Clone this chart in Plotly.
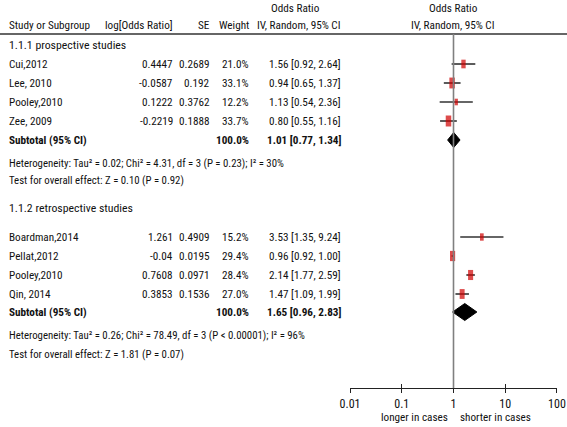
import plotly.graph_objects as go
import math

# ---------------- data ----------------
studies1 = ["Cui,2012", "Lee, 2010", "Pooley,2010", "Zee, 2009"]
logor1 = [0.4447, -0.0587, 0.1222, -0.2219]
se1 = [0.2689, 0.192, 0.3762, 0.1888]
w1 = [21.0, 33.1, 12.2, 33.7]
or1 = [1.56, 0.94, 1.13, 0.80]
lo1 = [0.92, 0.65, 0.54, 0.55]
hi1 = [2.64, 1.37, 2.36, 1.16]
sub1 = [1.01, 0.77, 1.34]
het1 = "Heterogeneity: Tau² = 0.02; Chi² = 4.31, df = 3 (P = 0.23); I² = 30%"
test1 = "Test for overall effect: Z = 0.10 (P = 0.92)"

studies2 = ["Boardman,2014", "Pellat,2012", "Pooley,2010", "Qin, 2014"]
logor2 = [1.261, -0.04, 0.7608, 0.3853]
se2 = [0.4909, 0.0195, 0.0971, 0.1536]
w2 = [15.2, 29.4, 28.4, 27.0]
or2 = [3.53, 0.96, 2.14, 1.47]
lo2 = [1.35, 0.92, 1.77, 1.09]
hi2 = [9.24, 1.00, 2.59, 1.99]
sub2 = [1.65, 0.96, 2.83]
het2 = "Heterogeneity: Tau² = 0.26; Chi² = 78.49, df = 3 (P < 0.00001); I² = 96%"
test2 = "Test for overall effect: Z = 1.81 (P = 0.07)"

group_titles = ["1.1.1 prospective studies", "1.1.2 retrospective studies"]
tick_vals = [0.01, 0.1, 1, 10, 100]
tick_text = ["0.01", "0.1", "1", "10", "100"]
favours = ["longer in cases", "shorter in cases"]

# ---------------- layout (pixel rows) ----------------
W, H = 567, 427
FONT = "Roboto Condensed, DejaVu Sans Condensed, sans-serif"
FS_ROW = 11.2
FS_HDR = 11.2
FS_NOTE = 10.8
rows1 = [64, 83, 102, 121]
rows2 = [237, 256, 275, 294]
g_rows = [45, 208]
sub_rows = [140, 312]
het_rows = [163, 335]
test_rows = [180, 354]
AXIS_Y = 388

fig = go.Figure()
annotations = []


def txt(x, y, s, anchor="left", bold=False, size=FS_ROW):
    annotations.append(dict(
        x=x / W, y=y, xref="paper", yref="y", text=f"<b>{s}</b>" if bold else s,
        showarrow=False, xanchor=anchor, yanchor="middle", borderpad=0,
        font=dict(family=FONT, size=size, color="#111"),
    ))


# headers
txt(295, 8, "Odds Ratio", "center", size=FS_HDR)
txt(342, 25, "IV, Random, 95% CI", "right", size=FS_HDR)
txt(453, 8, "Odds Ratio", "center", size=FS_HDR)
txt(453, 25, "IV, Random, 95% CI", "center", size=FS_HDR)
txt(8, 25, "Study or Subgroup", size=FS_HDR)
txt(174, 25, "log[Odds Ratio]", "right", size=FS_HDR)
txt(211, 25, "SE", "right", size=FS_HDR)
txt(250, 25, "Weight", "right", size=FS_HDR)

groups = [
    (studies1, logor1, se1, w1, or1, lo1, hi1, sub1, het1, test1, rows1),
    (studies2, logor2, se2, w2, or2, lo2, hi2, sub2, het2, test2, rows2),
]

for gi, (st, lg, se, w, orr, lo, hi, sub, het, test, rows) in enumerate(groups):
    txt(8, g_rows[gi], group_titles[gi], size=FS_ROW + 0.6)
    for i in range(len(st)):
        y = rows[i]
        txt(8, y, st[i])
        txt(174, y, str(lg[i]), "right")
        txt(211, y, str(se[i]), "right")
        txt(250, y, f"{w[i]:.1f}%", "right")
        txt(342, y, f"{orr[i]:.2f} [{lo[i]:.2f}, {hi[i]:.2f}]", "right")
    sy = sub_rows[gi]
    txt(8, sy, "Subtotal (95% CI)", bold=True)
    txt(250, sy, "100.0%", "right", bold=True)
    txt(342, sy, f"{sub[0]:.2f} [{sub[1]:.2f}, {sub[2]:.2f}]", "right", bold=True)
    txt(8, het_rows[gi], het, size=FS_NOTE)
    txt(8, test_rows[gi], test, size=FS_NOTE)

    # CI lines
    xs, ys = [], []
    for i in range(len(st)):
        xs += [lo[i], hi[i], None]
        ys += [rows[i], rows[i], None]
    fig.add_trace(go.Scatter(x=xs, y=ys, mode="lines", line=dict(color="#333", width=1.6),
                             hoverinfo="skip", showlegend=False))
    # weight boxes (slightly taller than wide, as in the source)
    fig.add_trace(go.Scatter(x=orr, y=rows, mode="markers",
                             marker=dict(symbol="line-ns", color="#D00000",
                                         size=[1.35 * math.sqrt(v) for v in w],
                                         line=dict(color="#D00000",
                                                   width=[0.95 * math.sqrt(v) for v in w])),
                             showlegend=False))
    # diamond
    hh = 7.5 if gi == 0 else 8.5
    fig.add_trace(go.Scatter(x=[sub[1], sub[0], sub[2], sub[0], sub[1]],
                             y=[sy, sy - hh, sy, sy + hh, sy], mode="lines", fill="toself",
                             fillcolor="black", line=dict(color="black", width=1),
                             showlegend=False))

annotations.append(dict(x=450 / W, y=417, xref="paper", yref="y", text=favours[0], showarrow=False,
                        xanchor="right", yanchor="middle", font=dict(family=FONT, size=FS_ROW, color="#111")))
annotations.append(dict(x=458 / W, y=417, xref="paper", yref="y", text=favours[1], showarrow=False,
                        xanchor="left", yanchor="middle", font=dict(family=FONT, size=FS_ROW, color="#111")))

shapes = [
    dict(type="line", xref="paper", yref="y", x0=0, x1=1, y0=34, y1=34,
         line=dict(color="#333", width=1.6)),
    dict(type="line", xref="x", yref="y", x0=1, x1=1, y0=34, y1=AXIS_Y,
         line=dict(color="#808080", width=1.6)),
]

dom = [350 / W, 557 / W]
pos = (H - AXIS_Y) / H
rng = [-2.001, 2.001]
fig.update_layout(
    width=W, height=H, margin=dict(l=0, r=0, t=0, b=0, autoexpand=False),
    paper_bgcolor="white", plot_bgcolor="white",
    annotations=annotations, shapes=shapes,
    xaxis=dict(type="log", range=rng, domain=dom, anchor="free", position=pos, automargin=False,
               showline=True, linecolor="#222", linewidth=1.4, showgrid=False, zeroline=False,
               ticks="outside", ticklen=4, tickwidth=1.4, tickcolor="#222",
               tickvals=tick_vals, ticktext=tick_text,
               tickfont=dict(family=FONT, size=FS_ROW + 0.8, color="#111")),
    xaxis2=dict(type="log", range=rng, domain=dom, anchor="free", position=pos, automargin=False,
                overlaying="x", showline=False, showgrid=False, zeroline=False,
                ticks="inside", ticklen=4, tickwidth=1.4, tickcolor="#222",
                tickvals=tick_vals, showticklabels=False),
    yaxis=dict(range=[H, 0], domain=[0, 1], visible=False, showgrid=False, zeroline=False,
               automargin=False),
)
fig.add_trace(go.Scatter(x=[1], y=[-100], xaxis="x2", mode="markers", marker=dict(opacity=0),
                         showlegend=False, hoverinfo="skip"))

fig.write_html("out.html", config={"displayModeBar": False},
               post_script="document.body.style.margin='0';document.body.style.overflow='hidden';")
